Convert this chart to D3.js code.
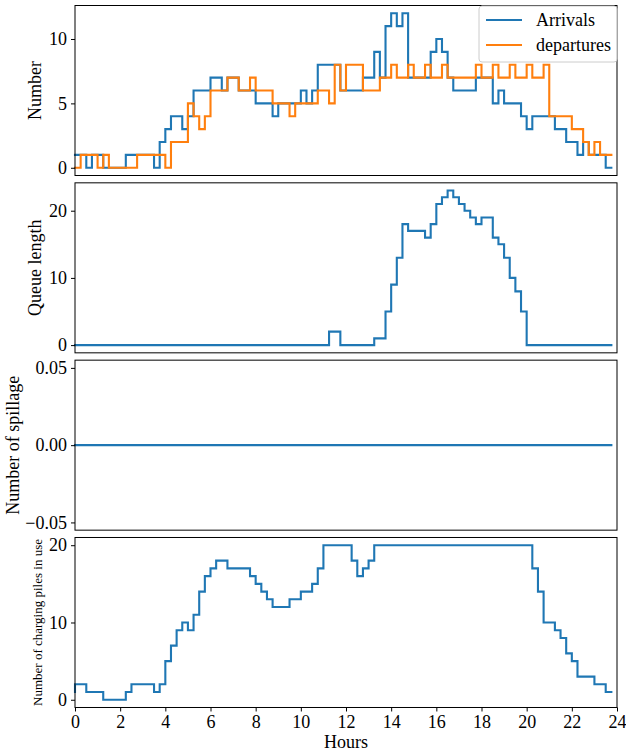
<!DOCTYPE html>
<html>
<head>
<meta charset="utf-8">
<script src="https://cdn.jsdelivr.net/npm/d3@7"></script>
<style>
  html, body { margin: 0; padding: 0; background: #fff; }
  svg text { font-family: "Liberation Serif", "Times New Roman", serif; fill: #000; }
</style>
</head>
<body>
<svg id="chart" width="626" height="755"></svg>
<script>
// ---- data (15-minute resolution, t = 0, 0.25, ..., 23.75 h) ----
const hours = d3.range(96).map(i => i * 0.25);

const arrivals = [1,
  1,1,0,1,1,0,0,0,0,1,
  1,1,1,1,0,2,3,4,4,3,
  4,6,6,6,7,7,6,7,7,6,
  6,6,5,5,5,4,5,5,5,5,
  6,5,6,8,8,8,8,6,6,6,
  6,7,7,9,7,11,12,11,12,7,
  7,7,7,9,10,9,7,6,6,6,
  6,7,7,7,5,6,5,5,5,4,
  3,4,4,4,4,3,3,2,2,1,
  2,1,1,1,0];

const departures = [0,
  0,1,1,1,0,1,0,0,0,0,
  0,1,1,1,1,1,0,2,2,2,
  5,4,3,4,6,6,6,7,7,6,
  6,7,6,6,6,5,5,5,4,5,
  5,5,5,6,6,5,8,6,8,8,
  8,6,6,6,7,7,8,7,7,8,
  7,7,8,7,7,8,7,7,7,7,
  7,8,7,7,8,7,7,8,7,7,
  8,7,7,8,4,4,4,4,3,3,
  2,1,2,1,1];

const queueLength = [0,
  0,0,0,0,0,0,0,0,0,0,
  0,0,0,0,0,0,0,0,0,0,
  0,0,0,0,0,0,0,0,0,0,
  0,0,0,0,0,0,0,0,0,0,
  0,0,0,0,0,2,2,0,0,0,
  0,0,0,1,1,5,9,13,18,17,
  17,17,16,18,21,22,23,22,21,20,
  19,18,19,19,16,15,13,10,8,5,
  0,0,0,0,0,0,0,0,0,0,
  0,0,0,0,0];

const spillage = hours.map(() => 0);

const pilesInUse = [1,
  2,2,1,1,1,0,0,0,0,1,
  2,2,2,2,1,2,5,7,9,10,
  9,11,14,16,17,18,18,17,17,17,
  17,16,15,14,13,12,12,12,13,13,
  14,14,15,17,20,20,20,20,20,18,
  16,17,18,20,20,20,20,20,20,20,
  20,20,20,20,20,20,20,20,20,20,
  20,20,20,20,20,20,20,20,20,20,
  20,17,14,10,10,9,8,6,5,3,
  3,3,2,2,1];

const xTicks = [0,2,4,6,8,10,12,14,16,18,20,22,24];
const legendLabels = ["Arrivals", "departures"];
const yLabels = ["Number", "Queue length", "Number of spillage", "Number of charging piles in use"];

// ---- layout ----
const svg = d3.select("#chart");
const left = 75, right = 617;
const panelTop0 = 5.5, panelStep = 177.33, panelH = 170;
const blue = "#1f77b4", orange = "#ff7f0e";
const x = d3.scaleLinear().domain([0, 24]).range([left, right]);

const panels = [
  { series: [{v: arrivals, c: blue}, {v: departures, c: orange}], domain: [-0.6, 12.6], ticks: [0,5,10], fmt: d => String(d), label: yLabels[0], labelX: 41, labelSize: 18 },
  { series: [{v: queueLength, c: blue}], domain: [-1.15, 24.15], ticks: [0,10,20], fmt: d => String(d), label: yLabels[1], labelX: 41, labelSize: 18 },
  { series: [{v: spillage, c: blue}], domain: [-0.055, 0.055], ticks: [-0.05, 0, 0.05], fmt: d => (d < 0 ? "\u2212" : "") + Math.abs(d).toFixed(2), label: yLabels[2], labelX: 19, labelSize: 18 },
  { series: [{v: pilesInUse, c: blue}], domain: [-1, 21], ticks: [0,10,20], fmt: d => String(d), label: yLabels[3], labelX: 42, labelSize: 13 }
];

panels.forEach((p, i) => {
  const top = panelTop0 + i * panelStep;
  const bottom = top + panelH;
  const y = d3.scaleLinear().domain(p.domain).range([bottom, top]);
  const g = svg.append("g");

  // lines
  const line = d3.line().x((d, j) => x(hours[j])).y(d => y(d)).curve(d3.curveStepBefore);
  p.series.forEach(s => {
    g.append("path").datum(s.v).attr("d", line)
      .attr("fill", "none").attr("stroke", s.c).attr("stroke-width", 2.1)
      .attr("stroke-linejoin", "miter").attr("stroke-linecap", "square");
  });

  // y axis
  const ya = g.append("g").attr("transform", `translate(${left},0)`)
    .call(d3.axisLeft(y).tickValues(p.ticks).tickFormat(p.fmt).tickSize(4).tickPadding(4));
  ya.select(".domain").remove();
  ya.selectAll("text").style("font-size", "18px").attr("fill", "#000");
  ya.selectAll("line").attr("stroke", "#000");

  // frame
  g.append("rect").attr("x", left).attr("y", top).attr("width", right - left).attr("height", panelH)
    .attr("fill", "none").attr("stroke", "#000").attr("stroke-width", 1);

  // y label
  g.append("text")
    .attr("transform", `translate(${p.labelX},${(top + bottom) / 2}) rotate(-90)`)
    .attr("text-anchor", "middle")
    .style("font-size", p.labelSize + "px")
    .text(p.label);

  if (i === 3) {
    const xa = g.append("g").attr("transform", `translate(0,${bottom})`)
      .call(d3.axisBottom(x).tickValues(xTicks).tickFormat(d => String(d)).tickSize(4).tickPadding(4));
    xa.select(".domain").remove();
    xa.selectAll("text").style("font-size", "18px").attr("fill", "#000");
    xa.selectAll("line").attr("stroke", "#000");
    g.append("text").attr("x", (left + right) / 2).attr("y", bottom + 41)
      .attr("text-anchor", "middle").style("font-size", "18px").text("Hours");
  }

  if (i === 0) {
    const lg = g.append("g");
    lg.append("rect").attr("x", 479).attr("y", top + 0.5).attr("width", right - 479).attr("height", 56)
      .attr("rx", 3).attr("fill", "#fff").attr("fill-opacity", 0.8).attr("stroke", "#ccc").attr("stroke-width", 1);
    p.series.forEach((s, j) => {
      const cy = top + 14.5 + j * 25;
      lg.append("line").attr("x1", 486).attr("x2", 522).attr("y1", cy).attr("y2", cy)
        .attr("stroke", s.c).attr("stroke-width", 2.1);
      lg.append("text").attr("x", 536).attr("y", cy + 6).style("font-size", "18px").text(legendLabels[j]);
    });
  }
});
</script>
</body>
</html>
